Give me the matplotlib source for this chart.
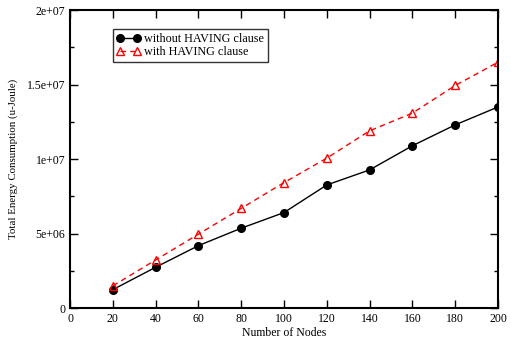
import matplotlib
matplotlib.use("Agg")
import matplotlib.pyplot as plt
from matplotlib.ticker import MultipleLocator, FuncFormatter

plt.rcParams["font.family"] = "Liberation Serif"

nodes = [20, 40, 60, 80, 100, 120, 140, 160, 180, 200]
without_having = [1.25e6, 2.75e6, 4.2e6, 5.37e6, 6.42e6, 8.27e6, 9.28e6, 10.9e6, 12.3e6, 13.5e6]
with_having = [1.5e6, 3.24e6, 4.97e6, 6.7e6, 8.43e6, 10.07e6, 11.9e6, 13.09e6, 14.94e6, 16.5e6]


def sci(v, pos):
    if v == 0:
        return "0"
    m, e = f"{v:.1e}".split("e")
    m = m.rstrip("0").rstrip(".")
    return f"{m}e+{int(e):02d}"


fig = plt.figure(figsize=(5.11, 3.46), dpi=100)
ax = fig.add_axes([0.137, 0.109, 0.8376, 0.862])

ax.plot(nodes, without_having, color="black", lw=1.0, marker="o", ms=5.5,
        label="without HAVING clause")
ax.plot(nodes, with_having, color="red", lw=1.0, ls=(0, (4, 3)), marker="^", ms=6,
        mfc="none", mew=1.0, label="with HAVING clause")

ax.set_xlim(0, 200)
ax.set_ylim(0, 2e7)
ax.xaxis.set_major_locator(MultipleLocator(20))
ax.yaxis.set_major_locator(MultipleLocator(5e6))
ax.yaxis.set_minor_locator(MultipleLocator(2.5e6))
ax.yaxis.set_major_formatter(FuncFormatter(sci))
ax.tick_params(which="both", direction="in", top=True, right=True, labelsize=8.5, width=1.0)
ax.tick_params(which="major", length=6)
ax.tick_params(which="minor", length=3)
for s in ax.spines.values():
    s.set_linewidth(1.5)

ax.set_xlabel("Number of Nodes", fontsize=8.5, labelpad=1)
ax.set_ylabel("Total Energy Consumption (u-Joule)", fontsize=7.8, labelpad=6)

leg = ax.legend(loc="upper left", bbox_to_anchor=(0.1, 0.935), fontsize=8.7,
                frameon=True, fancybox=False, edgecolor="black", handlelength=2.0,
                numpoints=2, borderpad=0.3, labelspacing=0.1, handletextpad=0.3,
                borderaxespad=0)
leg.get_frame().set_linewidth(1.0)

fig.savefig("out.png", dpi=100)
